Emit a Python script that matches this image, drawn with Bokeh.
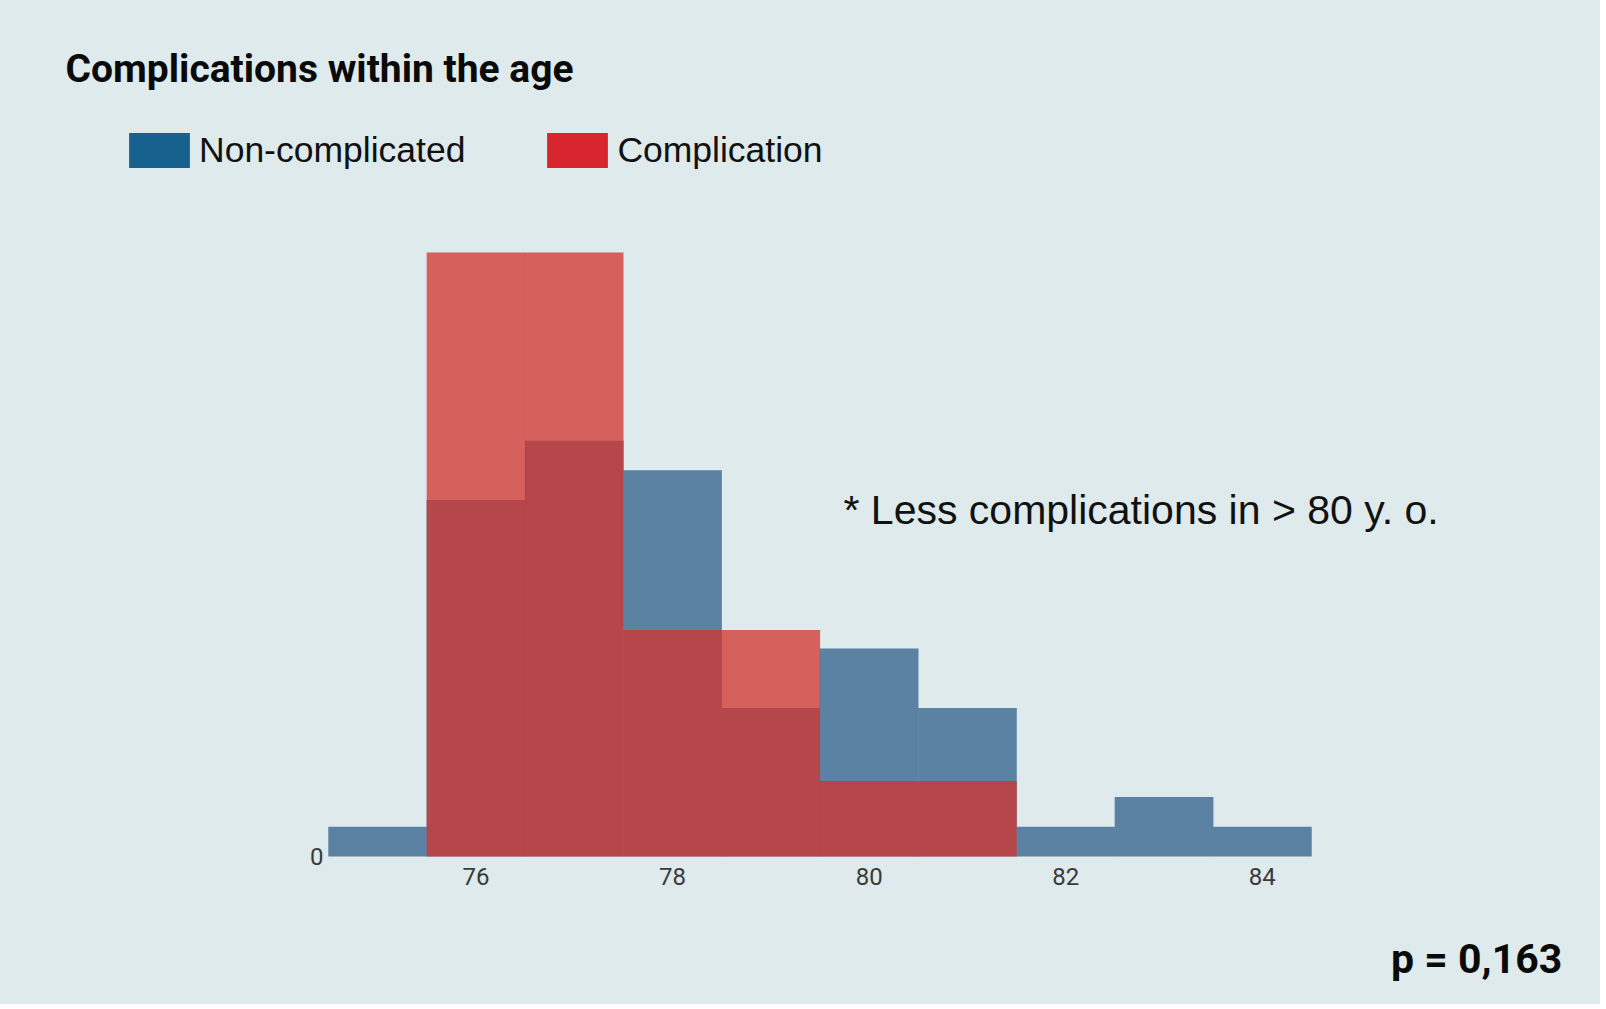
from bokeh.plotting import figure
from bokeh.layouts import column
from bokeh.models import Label, Legend, LegendItem, FixedTicker, Range1d, ColumnDataSource
from bokeh.embed import file_html
from bokeh.resources import INLINE

# ---- data (density histogram, bin width 1 year) ----
ages = [75, 76, 77, 78, 79, 80, 81, 82, 83, 84]
non_complicated = [0.0164, 0.1967, 0.2295, 0.2131, 0.0820, 0.1148, 0.0820, 0.0164, 0.0328, 0.0164]
complication_ages = [76, 77, 78, 79, 80, 81]
complication = [0.3333, 0.3333, 0.1250, 0.1250, 0.0417, 0.0417]
x_ticks = [76, 78, 80, 82, 84]
y_ticks = [0]
series_names = ["Non-complicated", "Complication"]
title_text = "Complications within the age"
note_text = "* Less complications in > 80 y. o."
p_text = "p = 0,163"

BG = "#DEEAEB"
BAR_BLUE = "#5B82A3"
BAR_RED = "#D3312C"
LEG_BLUE = "#17618E"
LEG_RED = "#D7262E"

# ---- main chart ----
p = figure(width=1600, height=935,
           x_range=Range1d(71.4685, 87.44), y_range=Range1d(-0.018764, 0.472406),
           output_backend="svg", toolbar_location=None,
           min_border_left=30, min_border_right=0,
           min_border_top=0, min_border_bottom=45)
p.background_fill_color = BG
p.border_fill_color = BG
p.outline_line_color = None
p.grid.visible = False
p.styles = {"background-color": BG}

p.vbar(x=ages, top=non_complicated, width=1.004, fill_color=BAR_BLUE, line_color=None)
p.vbar(x=complication_ages, top=complication, width=1.002, fill_color=BAR_RED,
       fill_alpha=0.75, line_color=None)

for ax in (p.xaxis, p.yaxis):
    ax.axis_line_color = None
    ax.major_tick_line_color = None
    ax.minor_tick_line_color = None
    ax.major_tick_out = 0
    ax.major_tick_in = 0
    ax.major_label_text_font = "Roboto"
    ax.major_label_text_font_size = "24px"
    ax.major_label_text_color = "#3a3a3a"
p.xaxis.ticker = FixedTicker(ticks=x_ticks)
p.yaxis.ticker = FixedTicker(ticks=y_ticks)
p.xaxis.major_label_standoff = 12
p.yaxis.major_label_standoff = 5
p.xaxis.fixed_location = 0
p.yaxis.fixed_location = 74.5

# legend with saturated swatches (zero-height helper bars, invisible in the plot)
leg_src = ColumnDataSource(data=dict(x=ages[:1], top=[0.0]))
r_leg_blue = p.vbar(x="x", top="top", width=1, source=leg_src,
                    fill_color=LEG_BLUE, line_color=None)
r_leg_red = p.vbar(x="x", top="top", width=1, source=leg_src,
                   fill_color=LEG_RED, line_color=None)
legend = Legend(items=[LegendItem(label=series_names[0], renderers=[r_leg_blue]),
                       LegendItem(label=series_names[1], renderers=[r_leg_red])],
                orientation="horizontal", location=(91, 718),
                glyph_width=76, glyph_height=44, label_standoff=2, spacing=74,
                padding=0, margin=0, border_line_color=None, background_fill_alpha=0,
                label_text_font_size="35.5px", label_text_font="Liberation Sans",
                label_text_color="#111111")
p.add_layout(legend)

p.add_layout(Label(x=71.8245, y=0.43433, text=title_text, text_font="Roboto",
                   text_font_style="bold", text_font_size="39px", text_baseline="alphabetic",
                   text_align="left", text_color="#0a0a0a"))
p.add_layout(Label(x=79.739, y=0.19150, text=note_text, text_font="Liberation Sans",
                   text_font_size="41px", text_baseline="alphabetic", text_align="left",
                   text_color="#111111"))

# ---- strip below with the p-value ----
q = figure(width=1600, height=69, x_range=Range1d(0, 1600), y_range=Range1d(0, 69),
           output_backend="svg", toolbar_location=None,
           min_border_left=0, min_border_right=0, min_border_top=0, min_border_bottom=0)
q.background_fill_color = BG
q.border_fill_color = BG
q.outline_line_color = None
q.grid.visible = False
q.axis.visible = False
q.styles = {"background-color": BG}
q.add_layout(Label(x=1561, y=46, text=p_text, text_font="Roboto", text_font_style="bold",
                   text_font_size="41px", text_baseline="alphabetic", text_align="right",
                   text_color="#0a0a0a"))

page = column(p, q, spacing=0, styles={"background-color": BG})
open("out.html", "w").write(file_html(page, INLINE))
